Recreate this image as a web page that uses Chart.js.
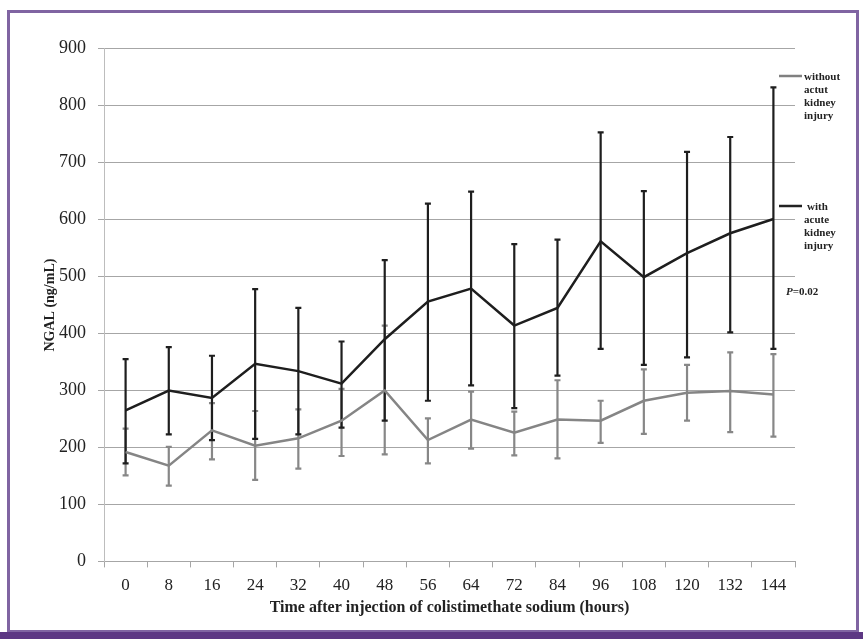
<!DOCTYPE html>
<html>
<head>
<meta charset="utf-8">
<script src="https://cdn.jsdelivr.net/npm/chart.js@4"></script>
<style>
  body { margin: 0; background: #fff; }
  #wrap { position: relative; width: 863px; height: 639px; overflow: hidden; }
  #frame { position: absolute; left: 7px; top: 10px; width: 852px; height: 623px;
           border: 3px solid #8064A2; box-sizing: border-box; pointer-events: none; }
  #band { position: absolute; left: 0; top: 632px; width: 863px; height: 7px; background: #5D3784; }
</style>
</head>
<body>
<div id="wrap">
  <canvas id="myChart" width="863" height="639"></canvas>
  <div id="frame"></div>
  <div id="band"></div>
</div>
<script>
var hours = ['0', '8', '16', '24', '32', '40', '48', '56', '64', '72', '84', '96', '108', '120', '132', '144'];

// with acute kidney injury
var akiMean  = [265, 300, 287, 347, 334, 312, 390, 456, 479, 414, 445, 562, 499, 541, 576, 601];
var akiUpper = [355, 376, 361, 478, 445, 386, 529, 628, 649, 557, 565, 753, 650, 719, 745, 832];
var akiLower = [172, 223, 213, 215, 223, 235, 247, 282, 309, 269, 326, 373, 345, 358, 402, 373];

// without acute kidney injury
var noAkiMean  = [192, 168, 230, 203, 216, 247, 300, 213, 249, 226, 249, 247, 282, 296, 299, 293];
var noAkiUpper = [233, 201, 278, 264, 267, 303, 414, 251, 298, 263, 318, 282, 337, 345, 367, 364];
var noAkiLower = [151, 133, 179, 143, 163, 185, 188, 172, 198, 186, 181, 208, 224, 247, 227, 219];

var yTicks = [0, 100, 200, 300, 400, 500, 600, 700, 800, 900];

var serif = '"Liberation Serif", "Times New Roman", serif';

// error bars, drawn with the chart's own scales
var errorBars = {
    id: 'errorBars',
    beforeDatasetsDraw: function (chart) {
        var ctx = chart.ctx;
        var xs = chart.scales.x, ys = chart.scales.y;
        var sets = [
            { upper: noAkiUpper, lower: noAkiLower, color: '#878787' },
            { upper: akiUpper, lower: akiLower, color: '#1e1e1e' }
        ];
        ctx.save();
        sets.forEach(function (s) {
            ctx.strokeStyle = s.color;
            ctx.lineWidth = 2.2;
            for (var i = 0; i < hours.length; i++) {
                var x = xs.getPixelForValue(i);
                var yt = ys.getPixelForValue(s.upper[i]);
                var yb = ys.getPixelForValue(s.lower[i]);
                ctx.beginPath();
                ctx.moveTo(x, yt); ctx.lineTo(x, yb);
                ctx.moveTo(x - 3, yt); ctx.lineTo(x + 3, yt);
                ctx.moveTo(x - 3, yb); ctx.lineTo(x + 3, yb);
                ctx.stroke();
            }
        });
        ctx.restore();
    }
};

// side legend and P value
var sideNotes = {
    id: 'sideNotes',
    afterDraw: function (chart) {
        var ctx = chart.ctx;
        ctx.save();
        ctx.font = 'bold 11px ' + serif;
        ctx.textBaseline = 'middle';
        ctx.fillStyle = '#222';
        ctx.lineWidth = 2.5;

        ctx.strokeStyle = '#808080';
        ctx.beginPath(); ctx.moveTo(779, 76); ctx.lineTo(802, 76); ctx.stroke();
        ['without', 'actut', 'kidney', 'injury'].forEach(function (t, i) {
            ctx.fillText(t, 804, 77 + i * 13);
        });

        ctx.strokeStyle = '#222';
        ctx.beginPath(); ctx.moveTo(779, 206); ctx.lineTo(802, 206); ctx.stroke();
        ctx.fillText('with', 807, 207);
        ['acute', 'kidney', 'injury'].forEach(function (t, i) {
            ctx.fillText(t, 804, 220 + i * 13);
        });

        ctx.font = 'italic bold 11px ' + serif;
        ctx.fillText('P', 786, 292);
        var w = ctx.measureText('P').width;
        ctx.font = 'bold 11px ' + serif;
        ctx.fillText('=0.02', 786 + w, 292);
        ctx.restore();
    }
};

var ctx = document.getElementById('myChart').getContext('2d');

var myChart = new Chart(ctx, {
    type: 'line',
    data: {
        labels: hours,
        datasets: [{
            label: 'without actut kidney injury',
            data: noAkiMean,
            borderColor: '#858585',
            borderWidth: 2.5,
            pointRadius: 0,
            tension: 0,
            order: 0
        }, {
            label: 'with acute kidney injury',
            data: akiMean,
            borderColor: '#1e1e1e',
            borderWidth: 2.5,
            pointRadius: 0,
            tension: 0,
            order: 1
        }]
    },
    options: {
        responsive: false,
        animation: false,
        layout: { padding: { left: 0, top: 48.7, right: 68, bottom: 0 } },
        plugins: {
            legend: { display: false },
            tooltip: { enabled: false }
        },
        scales: {
            x: {
                offset: true,
                grid: { display: true, offset: true, drawOnChartArea: false, drawTicks: true,
                        tickLength: 6, color: '#a6a6a6' },
                border: { color: '#a6a6a6' },
                ticks: { color: '#222', padding: 8, maxRotation: 0,
                         font: { family: serif, size: 17 } },
                title: { display: true, text: 'Time after injection of colistimethate sodium (hours)',
                         color: '#222', padding: { top: 0, bottom: 22 },
                         font: { family: serif, size: 16, weight: 'bold' } },
                afterFit: function (scale) { scale.height = 77.6; }
            },
            y: {
                min: 0,
                max: 900,
                afterBuildTicks: function (scale) {
                    scale.ticks = yTicks.map(function (v) { return { value: v }; });
                },
                grid: { color: '#a6a6a6', tickLength: 6 },
                border: { color: '#bdbdbd' },
                ticks: { color: '#222', padding: 12,
                         font: { family: serif, size: 18 } },
                title: { display: true, text: 'NGAL (ng/mL)', color: '#222',
                         padding: { top: 42, bottom: 0 },
                         font: { family: serif, size: 14, weight: 'bold' } },
                afterFit: function (scale) { scale.width = 104; }
            }
        }
    },
    plugins: [errorBars, sideNotes]
});
</script>
</body>
</html>
